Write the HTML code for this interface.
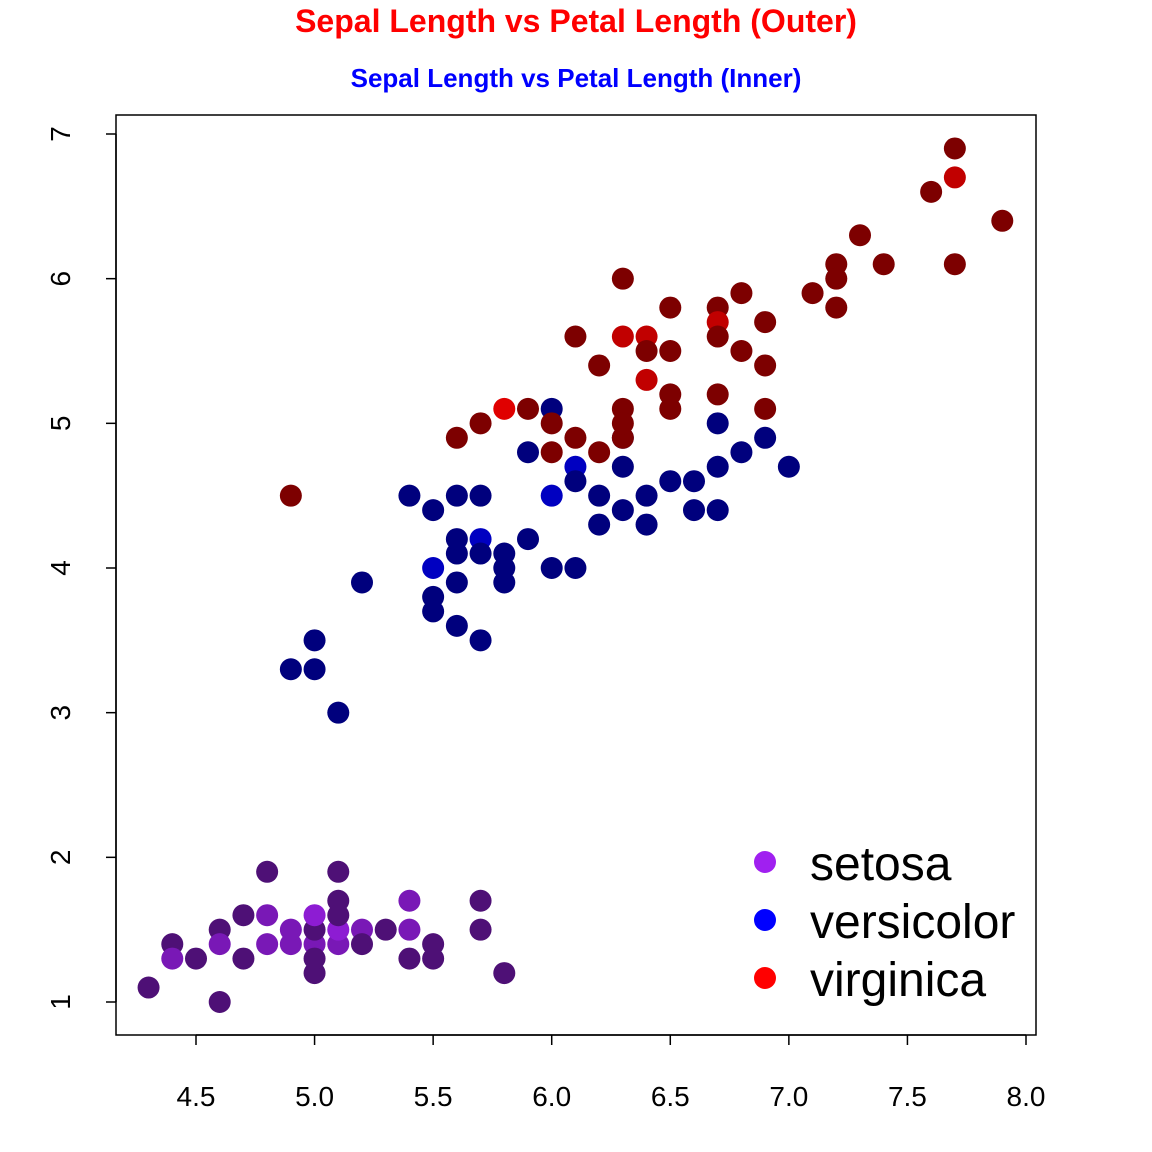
<!DOCTYPE html>
<html><head><meta charset="utf-8"><style>
body{margin:0;background:#fff}
svg{display:block;font-family:"Liberation Sans",Arial,sans-serif}
</style></head><body>
<svg id="chart" width="1152" height="1152" viewBox="0 0 1152 1152">
<rect width="1152" height="1152" fill="#fff"/>
<text x="576" y="32" text-anchor="middle" font-size="32" font-weight="bold" fill="#ff0000">Sepal Length vs Petal Length (Outer)</text>
<text x="576" y="87" text-anchor="middle" font-size="26" font-weight="bold" fill="#0000ff">Sepal Length vs Petal Length (Inner)</text>
<rect x="116" y="115" width="920" height="920" fill="none" stroke="#000" stroke-width="1.5"/>
<g id="axes"></g>
<g id="points"></g>
<g id="legend"></g>
</svg>
<script>
const xTicks=[4.5,5.0,5.5,6.0,6.5,7.0,7.5,8.0];
const xTickLabels=["4.5","5.0","5.5","6.0","6.5","7.0","7.5","8.0"];
const yTicks=[1,2,3,4,5,6,7];
const yTickLabels=["1","2","3","4","5","6","7"];
const species=["setosa","versicolor","virginica"];
const setosaSL=[5.1,4.9,4.7,4.6,5.0,5.4,4.6,5.0,4.4,4.9,5.4,4.8,4.8,4.3,5.8,5.7,5.4,5.1,5.7,5.1,5.4,5.1,4.6,5.1,4.8,5.0,5.0,5.2,5.2,4.7,4.8,5.4,5.2,5.5,4.9,5.0,5.5,4.9,4.4,5.1,5.0,4.5,4.4,5.0,5.1,4.8,5.1,4.6,5.3,5.0];
const setosaPL=[1.4,1.4,1.3,1.5,1.4,1.7,1.4,1.5,1.4,1.5,1.5,1.6,1.4,1.1,1.2,1.5,1.3,1.4,1.7,1.5,1.7,1.5,1.0,1.7,1.9,1.6,1.6,1.5,1.4,1.6,1.6,1.5,1.5,1.4,1.5,1.2,1.3,1.4,1.3,1.5,1.3,1.3,1.3,1.6,1.9,1.4,1.6,1.4,1.5,1.4];
const versicolorSL=[7.0,6.4,6.9,5.5,6.5,5.7,6.3,4.9,6.6,5.2,5.0,5.9,6.0,6.1,5.6,6.7,5.6,5.8,6.2,5.6,5.9,6.1,6.3,6.1,6.4,6.6,6.8,6.7,6.0,5.7,5.5,5.5,5.8,6.0,5.4,6.0,6.7,6.3,5.6,5.5,5.5,6.1,5.8,5.0,5.6,5.7,5.7,6.2,5.1,5.7];
const versicolorPL=[4.7,4.5,4.9,4.0,4.6,4.5,4.7,3.3,4.6,3.9,3.5,4.2,4.0,4.7,3.6,4.4,4.5,4.1,4.5,3.9,4.8,4.0,4.9,4.7,4.3,4.4,4.8,5.0,4.5,3.5,3.8,3.7,3.9,5.1,4.5,4.5,4.7,4.4,4.1,4.0,4.4,4.6,4.0,3.3,4.2,4.2,4.2,4.3,3.0,4.1];
const virginicaSL=[6.3,5.8,7.1,6.3,6.5,7.6,4.9,7.3,6.7,7.2,6.5,6.4,6.8,5.7,5.8,6.4,6.5,7.7,7.7,6.0,6.9,5.6,7.7,6.3,6.7,7.2,6.2,6.1,6.4,7.2,7.4,7.9,6.4,6.3,6.1,7.7,6.3,6.4,6.0,6.9,6.7,6.9,5.8,6.8,6.7,6.7,6.3,6.5,6.2,5.9];
const virginicaPL=[6.0,5.1,5.9,5.6,5.8,6.6,4.5,6.3,5.8,6.1,5.1,5.3,5.5,5.0,5.1,5.3,5.5,6.7,6.9,5.0,5.7,4.9,6.7,4.9,5.7,6.0,4.8,4.9,5.6,5.8,6.1,6.4,5.6,5.1,5.6,6.1,5.6,5.5,4.8,5.4,5.6,5.1,5.1,5.9,5.7,5.2,5.0,5.2,5.4,5.1];

const NS="http://www.w3.org/2000/svg";
const xs=v=>196+(v-4.5)*(830/3.5);
const ys=v=>1002-(v-1)*(868/6);
const baseCols=[[160,32,240],[0,0,255],[255,0,0]];
function mk(t,a){const e=document.createElementNS(NS,t);for(const k in a)e.setAttribute(k,a[k]);return e;}
const axes=document.getElementById('axes');
axes.appendChild(mk('line',{x1:xs(xTicks[0]),x2:xs(xTicks[xTicks.length-1]),y1:1035,y2:1035,stroke:'#000','stroke-width':1.5}));
xTicks.forEach((t,i)=>{
  const l=mk('line',{x1:xs(t),x2:xs(t),y1:1035,y2:1045,stroke:'#000','stroke-width':1.5});
  
  
  axes.appendChild(l);
  const tx=mk('text',{x:xs(t),y:1106,'text-anchor':'middle','font-size':28,fill:'#000'});
  tx.textContent=xTickLabels[i];
  
  
  axes.appendChild(tx);
});
axes.appendChild(mk('line',{x1:116,x2:116,y1:ys(yTicks[0]),y2:ys(yTicks[yTicks.length-1]),stroke:'#000','stroke-width':1.5}));
yTicks.forEach((t,i)=>{
  const l=mk('line',{x1:106,x2:116,y1:ys(t),y2:ys(t),stroke:'#000','stroke-width':1.5});
  
  
  axes.appendChild(l);
  const tx=mk('text',{x:0,y:0,'text-anchor':'middle','font-size':28,fill:'#000',transform:`translate(70,${ys(t)}) rotate(-90)`});
  tx.textContent=yTickLabels[i];
  
  
  axes.appendChild(tx);
});
const sets=[[setosaSL,setosaPL],[versicolorSL,versicolorPL],[virginicaSL,virginicaPL]];
const pg=document.getElementById('points');
sets.forEach((s,si)=>{
  const cnt={};
  s[0].forEach((x,i)=>{const k=x+'_'+s[1][i];cnt[k]=(cnt[k]||0)+1;});
  const done={};
  s[0].forEach((x,i)=>{
    const k=x+'_'+s[1][i]; if(done[k])return; done[k]=1;
    const f=1-Math.pow(0.5,cnt[k]+0.05)*1.0;
    const c=baseCols[si].map(v=>Math.round(v*(cnt[k]>1?f:0.49)));
    const ci=mk('circle',{cx:xs(x),cy:ys(s[1][i]),r:11,fill:`rgb(${c.join(',')})`});
    
    
    pg.appendChild(ci);
  });
});
const lg=document.getElementById('legend');
species.forEach((sp,i)=>{
  const y=862+i*58;
  const ci=mk('circle',{cx:765,cy:y,r:11,fill:`rgb(${baseCols[i].join(',')})`});
  
  
  lg.appendChild(ci);
  const tx=mk('text',{x:810,y:y+18,'font-size':48,fill:'#000'});
  tx.textContent=sp;
  
  
  lg.appendChild(tx);
});
</script>
</body></html>
